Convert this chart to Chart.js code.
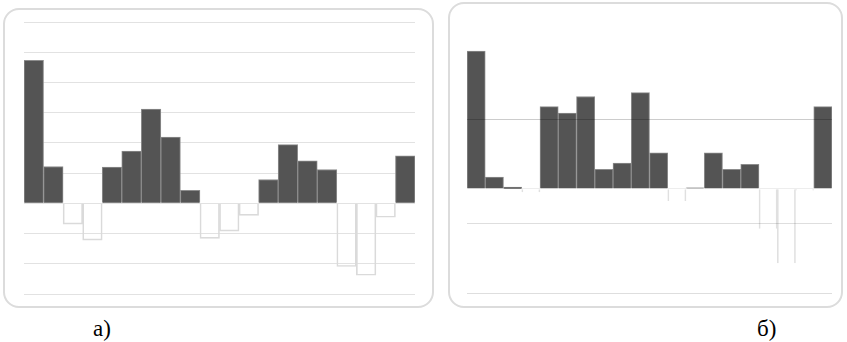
<!DOCTYPE html>
<html>
<head>
<meta charset="utf-8">
<script src="https://cdn.jsdelivr.net/npm/chart.js@4/dist/chart.umd.min.js"></script>
<style>
  body { margin: 0; width: 847px; height: 342px; background: #fff; position: relative; overflow: hidden; }
  .frame { position: absolute; box-sizing: border-box; border: 2px solid #dcdcdc; border-radius: 16px; }
  .box { position: absolute; }
  .lbl { position: absolute; font-family: "Liberation Serif", "DejaVu Serif", serif; font-size: 23px; line-height: 23px; color: #000; }
</style>
</head>
<body>
<div class="frame" style="left:3px;top:8px;width:431px;height:300px"></div>
<div class="frame" style="left:448px;top:2px;width:395px;height:306px"></div>
<div class="box" style="left:22px;top:20px;width:395px;height:276px"><canvas id="chartA"></canvas></div>
<div class="box" style="left:465px;top:48px;width:369px;height:247px"><canvas id="chartB"></canvas></div>
<div class="lbl" style="left:93px;top:317px">а)</div>
<div class="lbl" style="left:757px;top:317px">б)</div>
<script>
// 20 periods, values
let categories = ['1','2','3','4','5','6','7','8','9','10','11','12','13','14','15','16','17','18','19','20'];
let valuesA = [4.73, 1.22, -0.69, -1.22, 1.2, 1.73, 3.12, 2.19, 0.43, -1.16, -0.92, -0.4, 0.79, 1.94, 1.41, 1.12, -2.09, -2.38, -0.46, 1.57];
let valuesB = [3.97, 0.34, 0.05, -0.1, 2.37, 2.18, 2.66, 0.56, 0.74, 2.77, 1.04, -0.35, 0.03, 1.04, 0.56, 0.71, -1.15, -2.14, -0.05, 2.37];
let ticksA = [-3, -2, -1, 0, 1, 2, 3, 4, 5, 6];
let ticksB = [-3, -1, 0, 2];

function makeChart(id, values, ticks, opts) {
  return new Chart(document.getElementById(id), {
    type: 'bar',
    data: {
      labels: categories,
      datasets: [{
        data: values,
        backgroundColor: c => c.raw >= 0 ? '#545454' : 'rgba(255,255,255,0)',
        borderColor: c => c.raw >= 0 ? '#8c8c8c' : opts.negBorder,
        borderWidth: c => c.raw >= 0 ? 1 : opts.negWidth,
        borderSkipped: 'start',
        categoryPercentage: 1,
        barPercentage: 1
      }]
    },
    options: {
      responsive: true,
      maintainAspectRatio: false,
      animation: false,
      layout: { padding: 2 },
      plugins: { legend: { display: false }, tooltip: { enabled: false } },
      scales: {
        x: { display: false },
        y: {
          min: ticks[0], max: opts.max,
          afterBuildTicks: axis => { axis.ticks = ticks.map(v => ({ value: v })); },
          ticks: { display: false },
          border: { display: false },
          grid: { drawTicks: false, color: opts.gridColor, lineWidth: 1, z: opts.gridZ }
        }
      }
    }
  });
}

makeChart('chartA', valuesA, ticksA, {
  max: 6, negBorder: '#dadada', negWidth: 1, gridZ: 0,
  gridColor: '#e2e2e2'
});
makeChart('chartB', valuesB, ticksB, {
  max: 4, negBorder: '#e0e0e0', negWidth: { left: 1, right: 1, top: 0, bottom: 0 }, gridZ: 1,
  gridColor: c => c.tick && c.tick.value === 0 ? 'rgba(0,0,0,0.07)' : (c.tick && c.tick.value === 2 ? 'rgba(0,0,0,0.2)' : 'rgba(0,0,0,0.13)')
});
</script>
</body>
</html>
